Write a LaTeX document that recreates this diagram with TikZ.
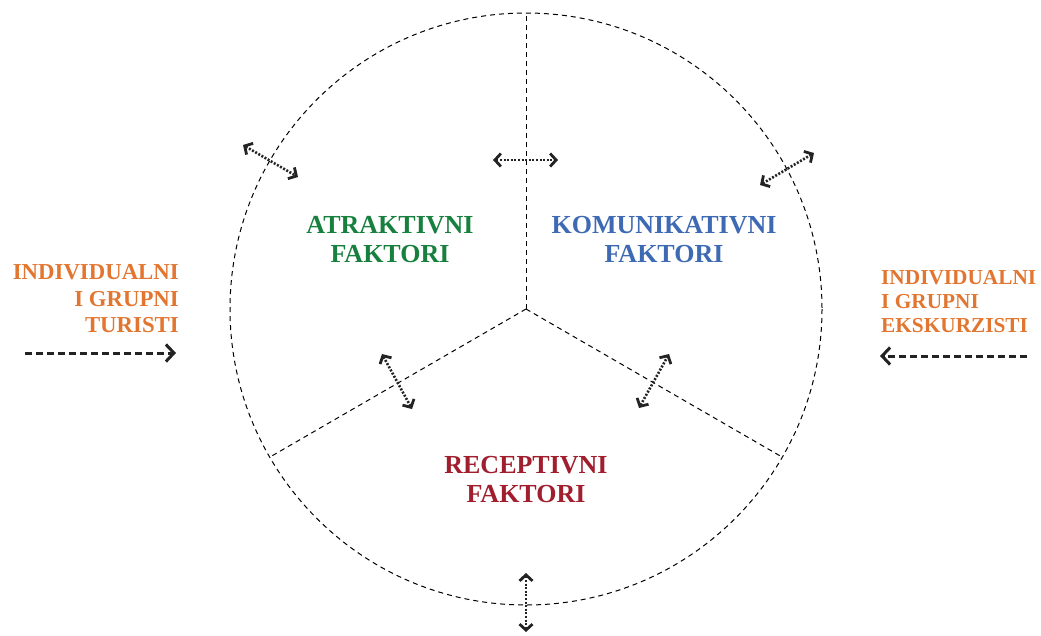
\documentclass[tikz,border=0pt]{standalone}
\usepackage{fontspec}
\setmainfont{Liberation Serif}
\usetikzlibrary{arrows.meta}
\definecolor{cgreen}{RGB}{24,128,62}
\definecolor{cblue}{RGB}{62,106,180}
\definecolor{cred}{RGB}{160,30,45}
\definecolor{corange}{RGB}{226,118,48}
\definecolor{cdark}{RGB}{35,35,35}
\tikzset{
  lbl/.style={font=\bfseries\fontsize{26}{29}\selectfont, align=center, inner sep=0pt},
  side/.style={text=corange, inner sep=0pt},
  divider/.style={line width=1pt, dash pattern=on 5pt off 4pt},
  dbl/.style={draw=cdark, line width=2.6pt, dash pattern=on 2pt off 1.6pt, {Straight Barb[length=6pt,width=13pt,line width=2.8pt]}-{Straight Barb[length=6pt,width=13pt,line width=2.8pt]}},
  flow/.style={draw=cdark, line width=3pt, dash pattern=on 7pt off 4pt, -{Straight Barb[length=8pt,width=17pt,line width=3pt]}}
}
\begin{document}
\begin{tikzpicture}[x=1pt,y=-1pt]
\useasboundingbox (0,0) rectangle (1041,635);
\coordinate (c) at (526,309);
\draw[divider] (c) circle (296);
\coordinate (top) at (526,13);
\coordinate (bl) at (270,457);
\coordinate (br) at (782,457);
\draw[divider] (c) -- (top);
\draw[divider] (c) -- (bl);
\draw[divider] (c) -- (br);

\node[lbl, text=cgreen] (atr) at (390,240) {ATRAKTIVNI\\FAKTORI};
\node[lbl, text=cblue] (kom) at (664,240) {KOMUNIKATIVNI\\FAKTORI};
\node[lbl, text=cred] (rec) at (526,480) {RECEPTIVNI\\FAKTORI};

\node[side, font=\bfseries\fontsize{22.8}{26.5}\selectfont, align=right, anchor=east] (tur) at (179,299) {INDIVIDUALNI\\I GRUPNI\\TURISTI};
\node[side, font=\bfseries\fontsize{21.3}{24}\selectfont, align=left, anchor=west] (eks) at (881,302) {INDIVIDUALNI\\I GRUPNI\\EKSKURZISTI};

\coordinate (a1s) at (243,145); \coordinate (a1e) at (298,177);
\coordinate (a2s) at (493,160); \coordinate (a2e) at (558,160);
\coordinate (a3s) at (760,185); \coordinate (a3e) at (814,153);
\coordinate (a4s) at (382,354); \coordinate (a4e) at (412,409);
\coordinate (a5s) at (639,408); \coordinate (a5e) at (669,354);
\coordinate (a6s) at (526,573); \coordinate (a6e) at (526,632);
\draw[dbl] (a1s) -- (a1e);
\draw[dbl] (a2s) -- (a2e);
\draw[dbl] (a3s) -- (a3e);
\draw[dbl] (a4s) -- (a4e);
\draw[dbl] (a5s) -- (a5e);
\draw[dbl] (a6s) -- (a6e);

\coordinate (l1) at (25,353); \coordinate (l2) at (176,353);
\coordinate (r1) at (1027,356); \coordinate (r2) at (880,356);
\draw[flow] (l1) -- (l2);
\draw[flow] (r1) -- (r2);
\end{tikzpicture}
\end{document}
